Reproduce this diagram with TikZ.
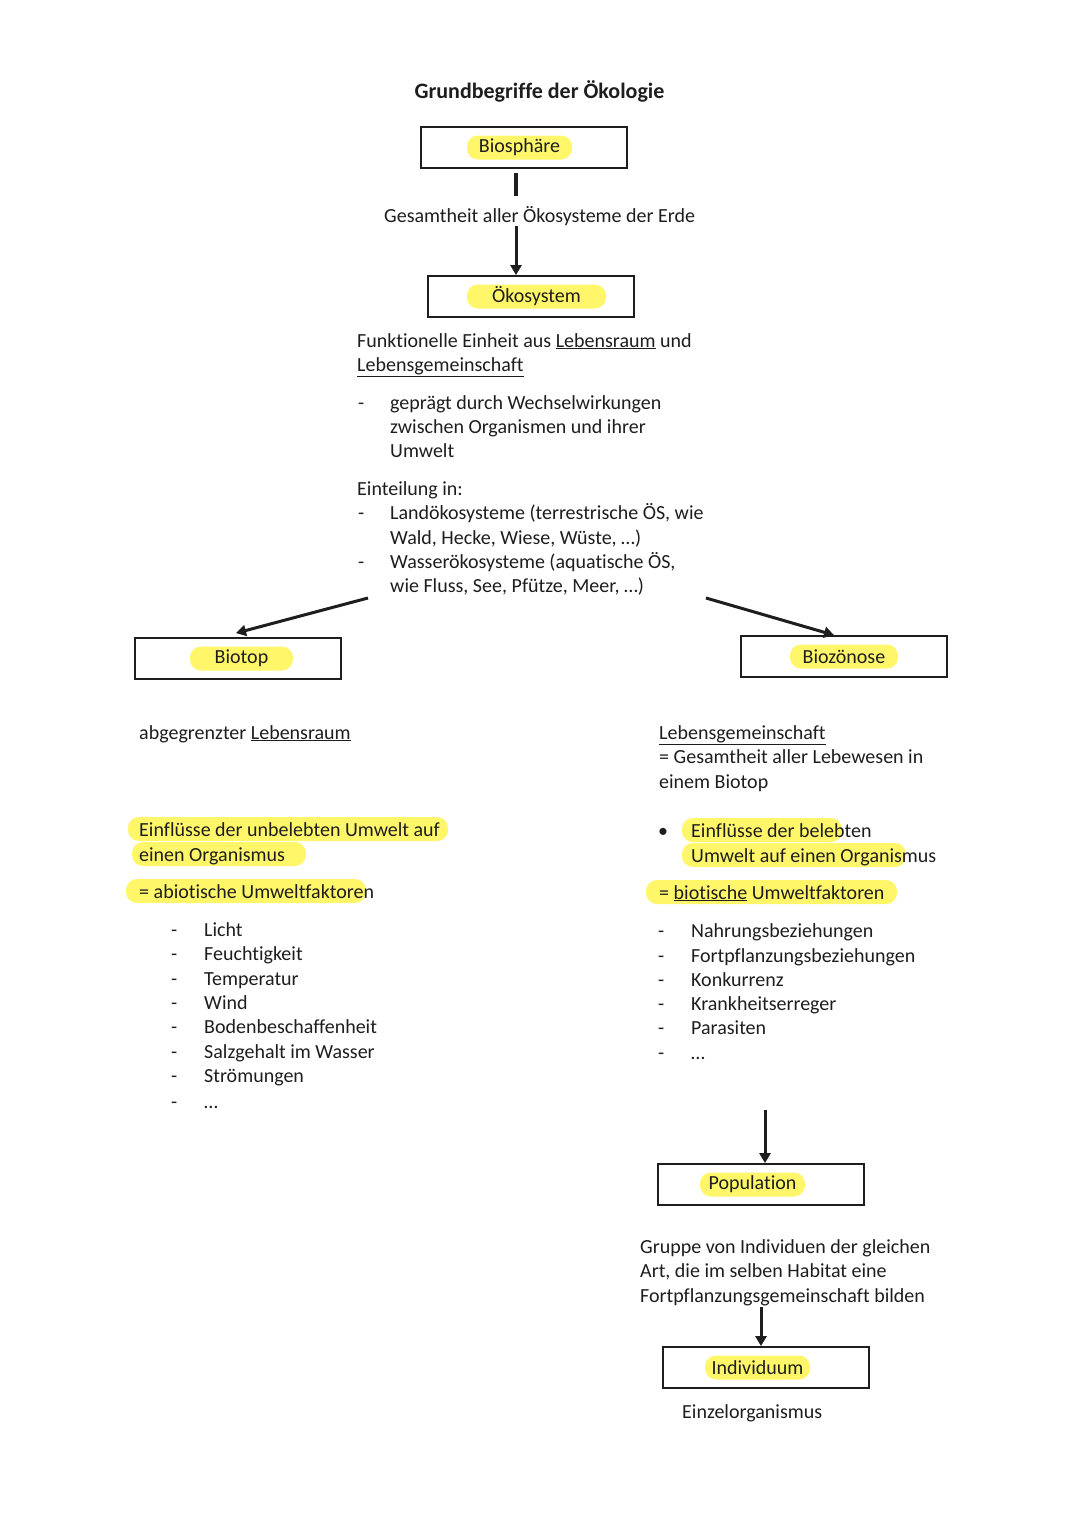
\documentclass[tikz,border=0pt]{standalone}
\usepackage{fontspec}
\setmainfont{Carlito}[Ligatures={NoCommon}]
\usetikzlibrary{arrows.meta}
\definecolor{hl}{RGB}{255,246,105}
\definecolor{ink}{RGB}{30,30,30}
\begin{document}
\begin{tikzpicture}[x=1pt,y=-1pt,
  txt/.style={anchor=base west, inner sep=0pt, font=\fontsize{20}{24.4}\selectfont, text=ink},
  ttl/.style={anchor=base, inner sep=0pt, font=\fontsize{22}{26}\selectfont\bfseries, text=ink},
  box/.style={draw=ink, line width=1.8pt, minimum width=206pt, minimum height=41pt, inner sep=0pt},
  lbl/.style={fill=hl, rounded corners=11pt, inner sep=0pt, minimum height=24pt, font=\fontsize{20}{24}\selectfont, text=ink},
  plain/.style={draw=ink, line width=3.4pt},
  arr/.style={draw=ink, line width=3pt, -{Triangle[width=11pt,length=10pt]}},
  hlf/.style={fill=hl, rounded corners=11pt}]
\useasboundingbox[fill=white] (0,0) rectangle (1080,1527);

% title
\node[ttl] (title) at (539.5,98) {Grundbegriffe der Ökologie};

% Biosphaere
\node[box] (bios) at (524,147.5) {};
\node[lbl, minimum width=105pt] (biosl) at (519.5,147.5) {Biosphäre};
\coordinate (a1e) at (516,196);
\draw[plain] (bios.south -| a1e) ++(0,4) -- (a1e);
\node[txt] (gesamt) at (384,222) {Gesamtheit aller Ökosysteme der Erde};
\coordinate (a2s) at (516,226);

% Oekosystem
\node[box] (oeko) at (531,296.5) {};
\node[lbl, minimum width=139pt] (oekol) at (536.5,296.5) {Ökosystem};
\draw[arr] (a2s) -- (oeko.north -| a2s);

\node[txt] (f1) at (357,347) {Funktionelle Einheit aus \underline{Lebensraum} und};
\node[txt] (f2) at (357,371) {\underline{Lebensgemeinschaft}};
\node[txt] (d1) at (358,409) {-};
\node[txt] (g1) at (390,409) {geprägt durch Wechselwirkungen};
\node[txt] (g2) at (390,433) {zwischen Organismen und ihrer};
\node[txt] (g3) at (390,457) {Umwelt};
\node[txt] (ein) at (357,495) {Einteilung in:};
\node[txt] (d2) at (358,519) {-};
\node[txt] (l1) at (390,519) {Landökosysteme (terrestrische ÖS, wie};
\node[txt] (l2) at (390,544) {Wald, Hecke, Wiese, Wüste, …)};
\node[txt] (d3) at (358,568) {-};
\node[txt] (w1) at (390,568) {Wasserökosysteme (aquatische ÖS,};
\node[txt] (w2) at (390,592) {wie Fluss, See, Pfütze, Meer, …)};

% Biotop / Biozoenose
\node[box] (biotop) at (238,658.5) {};
\node[lbl, minimum width=103pt] (biotopl) at (241.5,658.5) {Biotop};
\node[box] (bioz) at (844,656.5) {};
\node[lbl, minimum width=108pt] (biozl) at (844,656.5) {Biozönose};
\coordinate (s1) at (368,598);
\coordinate (s2) at (706,598);
\draw[arr] (s1) -- ([xshift=-2pt,yshift=4pt]biotop.north);
\draw[arr] (s2) -- ([xshift=-10pt]bioz.north);

% left column
\node[txt] (abg) at (139,739) {abgegrenzter \underline{Lebensraum}};
\fill[hlf] (128,817) rectangle (448,841);
\fill[hlf] (132,842) rectangle (306,866);
\fill[hlf] (126,879) rectangle (366,903);
\node[txt] (e1) at (139,836) {Einflüsse der unbelebten Umwelt auf};
\node[txt] (e2) at (139,861) {einen Organismus};
\node[txt] (abio) at (139,898) {= abiotische Umweltfaktoren};
\foreach \t/\y [count=\i] in {Licht/936, Feuchtigkeit/960, Temperatur/985, Wind/1009, Bodenbeschaffenheit/1033, Salzgehalt im Wasser/1058, Strömungen/1082, …/1108}{
  \node[txt] (ld\i) at (171,\y) {-};
  \node[txt] (lt\i) at (204,\y) {\t};
}

% right column
\node[txt] (lg) at (659,739) {\underline{Lebensgemeinschaft}};
\node[txt] (lg2) at (659,763) {= Gesamtheit aller Lebewesen in};
\node[txt] (lg3) at (659,788) {einem Biotop};
\fill[hlf] (682,818) rectangle (842,842);
\fill[hlf] (682,843) rectangle (906,867);
\fill[hlf] (646,880) rectangle (897,904);
\node[txt] (bul) at (658,837) {•};
\node[txt] (b1) at (691,837) {Einflüsse der belebten};
\node[txt] (b2) at (691,862) {Umwelt auf einen Organismus};
\node[txt] (bio) at (659,899) {= \underline{biotische} Umweltfaktoren};
\foreach \t/\y [count=\i] in {Nahrungsbeziehungen/937, Fortpflanzungsbeziehungen/962, Konkurrenz/986, Krankheitserreger/1010, Parasiten/1034, …/1059}{
  \node[txt] (rd\i) at (658,\y) {-};
  \node[txt] (rt\i) at (691,\y) {\t};
}

% Population
\coordinate (s3) at (765,1110);
\node[box] (pop) at (761,1184.5) {};
\node[lbl, minimum width=105pt] (popl) at (752.5,1184.5) {Population};
\draw[arr] (s3) -- ([xshift=4pt]pop.north);
\node[txt] (p1) at (640,1253) {Gruppe von Individuen der gleichen};
\node[txt] (p2) at (640,1277) {Art, die im selben Habitat eine};
\node[txt] (p3) at (640,1302) {Fortpflanzungsgemeinschaft bilden};

% Individuum
\coordinate (s4) at (761,1307);
\node[box] (ind) at (766,1367.5) {};
\node[lbl, minimum width=105pt] (indl) at (757.5,1367.5) {Individuum};
\draw[arr] (s4) -- ([xshift=-5pt]ind.north);
\node[txt] (einz) at (682,1418) {Einzelorganismus};
\end{tikzpicture}
\end{document}
